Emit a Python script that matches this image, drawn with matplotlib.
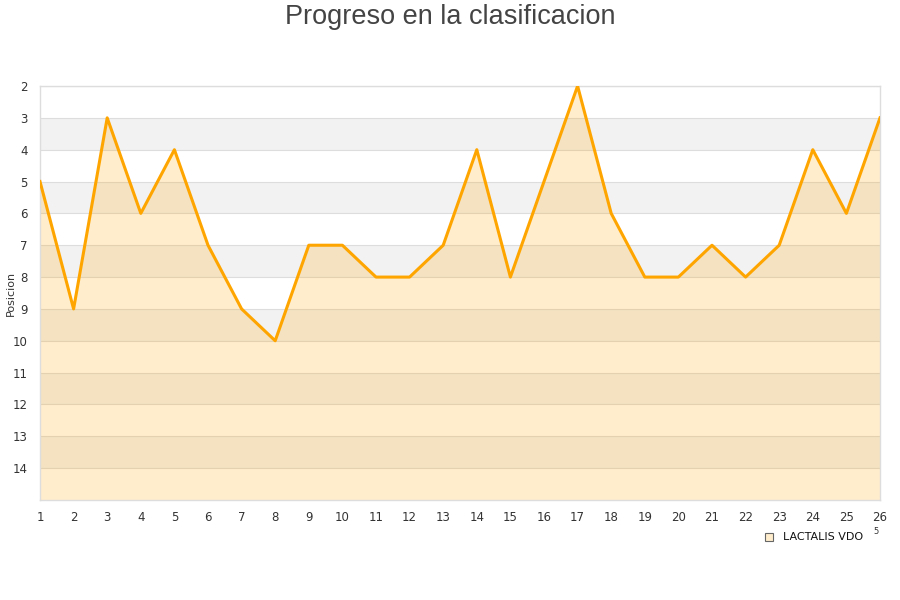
import numpy as np
import matplotlib.pyplot as plt

jornadas = np.arange(1, 27)
posicion = [5, 9, 3, 6, 4, 7, 9, 10, 7, 7, 8, 8, 7, 4, 8, 5, 2, 6, 8, 8, 7, 8, 7, 4, 6, 3]
equipo = 'LACTALIS VDO'
y_ticks = list(range(2, 15))

fig = plt.figure(figsize=(9, 6), dpi=100)
ax = fig.add_axes([40/900, 100/600, 840/900, 414/600])

# franjas grises alternas
for y0 in range(3, 15, 2):
    ax.axhspan(y0, y0 + 1, color='#f2f2f2', zorder=0, lw=0)
for y in range(2, 15):
    ax.axhline(y, color='#dddddd', lw=0.8, zorder=1)

ax.fill_between(jornadas, posicion, 15, color='#ffa500', alpha=0.2, lw=0, zorder=2)
ax.plot(jornadas, posicion, color='#ffa500', lw=2.2, zorder=3)

ax.set_xlim(1, 26)
ax.set_ylim(15, 2)
ax.set_xticks(jornadas)
ax.set_yticks(y_ticks)
ax.tick_params(length=0, labelsize=8.5, colors='#333333', pad=8)
ax.tick_params(axis='y', pad=9)
for s in ax.spines.values():
    s.set_color('#dddddd')
    s.set_linewidth(1)

fig.text(11/900, 1 - 293/600, 'Posicion', rotation=90, ha='center', va='center',
         fontsize=8, color='#333333')
fig.text(0.5, 1 - 17/600, 'Progreso en la clasificacion', ha='center', va='center',
         fontsize=19.5, color='#444444', family='Liberation Sans')

fig.patches.append(plt.Rectangle((765/900, 1 - 541/600), 8/900, 8/600,
                                 transform=fig.transFigure, facecolor='#ffedcc',
                                 edgecolor='#666666', lw=0.8))
fig.text(783/900, 1 - 537/600, equipo, ha='left', va='center', fontsize=8, color='#111111')
fig.text(876/900, 1 - 532/600, '5', ha='center', va='center', fontsize=6, color='#333333')

fig.savefig('out.png', dpi=100)
